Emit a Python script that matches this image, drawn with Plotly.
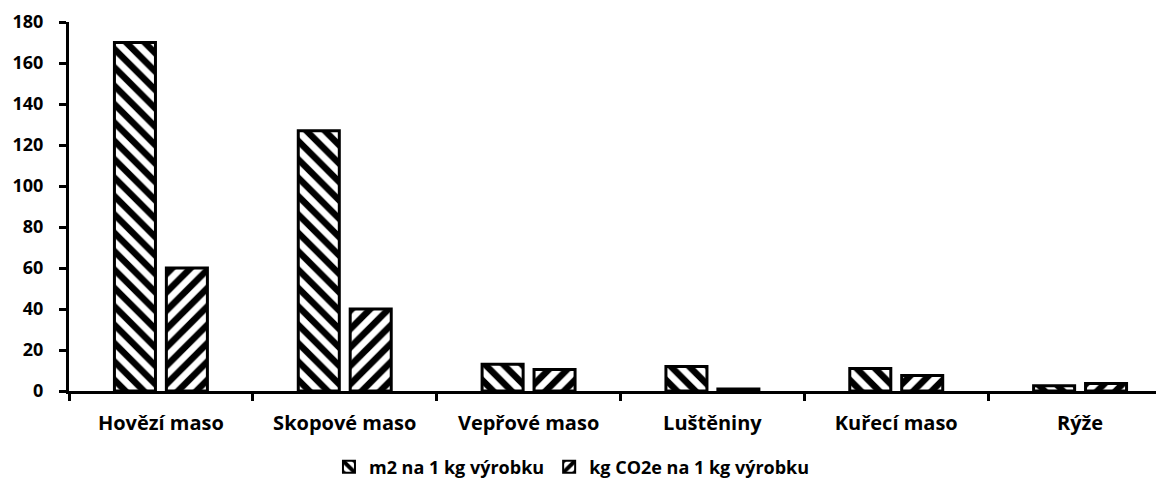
import plotly.graph_objects as go

categories = ["Hovězí maso", "Skopové maso", "Vepřové maso", "Luštěniny", "Kuřecí maso", "Rýže"]
m2_values = [170, 127, 13, 12, 11, 2.5]
co2_values = [60, 40, 10.5, 1, 7.5, 3.7]
series_names = ["m2 na 1 kg výrobku", "kg CO2e na 1 kg výrobku"]
y_ticks = [0, 20, 40, 60, 80, 100, 120, 140, 160, 180]

FONT = "Open Sans"
FS = 20

fig = go.Figure()
fig.add_trace(go.Bar(
    x=categories, y=m2_values, name="<b>" + series_names[0] + "</b>",
    marker=dict(color="white", line=dict(color="black", width=3),
                pattern=dict(shape="\\", fgcolor="black", bgcolor="white", fgopacity=1,
                             size=13, solidity=0.5)),
))
fig.add_trace(go.Bar(
    x=categories, y=co2_values, name="<b>" + series_names[1] + "</b>",
    marker=dict(color="white", line=dict(color="black", width=3),
                pattern=dict(shape="/", fgcolor="black", bgcolor="white", fgopacity=1,
                             size=13, solidity=0.5)),
))

fig.update_layout(
    width=1164, height=486,
    margin=dict(l=61, r=0, t=14, b=103),
    paper_bgcolor="white", plot_bgcolor="white",
    barmode="group", bargap=0.435, bargroupgap=0.21,
    font=dict(family=FONT, size=FS, color="black", weight=700),
    showlegend=True,
    legend=dict(orientation="h", x=0.456, xanchor="center", y=-0.206, yanchor="middle",
                font=dict(family=FONT, size=18, color="black", weight=700),
                itemwidth=30, itemsizing="constant"),
)
fig.update_xaxes(
    range=[-0.5, 5.5], showline=True, linecolor="black", linewidth=3,
    ticks="outside", tickson="boundaries", ticklen=7, tickwidth=3, tickcolor="black",
    ticklabelstandoff=12,
    tickvals=list(range(len(categories))),
    ticktext=["<b>" + c + "</b>" for c in categories],
    showgrid=False, tickfont=dict(family=FONT, size=FS, color="black", weight=700),
)
fig.update_yaxes(
    range=[0, 180], tickvals=y_ticks, ticktext=["<b>%d</b>" % v for v in y_ticks],
    showline=True, linecolor="black", linewidth=3,
    ticks="outside", ticklen=7, tickwidth=3, tickcolor="black",
    ticklabelstandoff=12,
    showgrid=False, zeroline=False,
    tickfont=dict(family=FONT, size=18, color="black", weight=700),
)

fig.write_html("out.html")
